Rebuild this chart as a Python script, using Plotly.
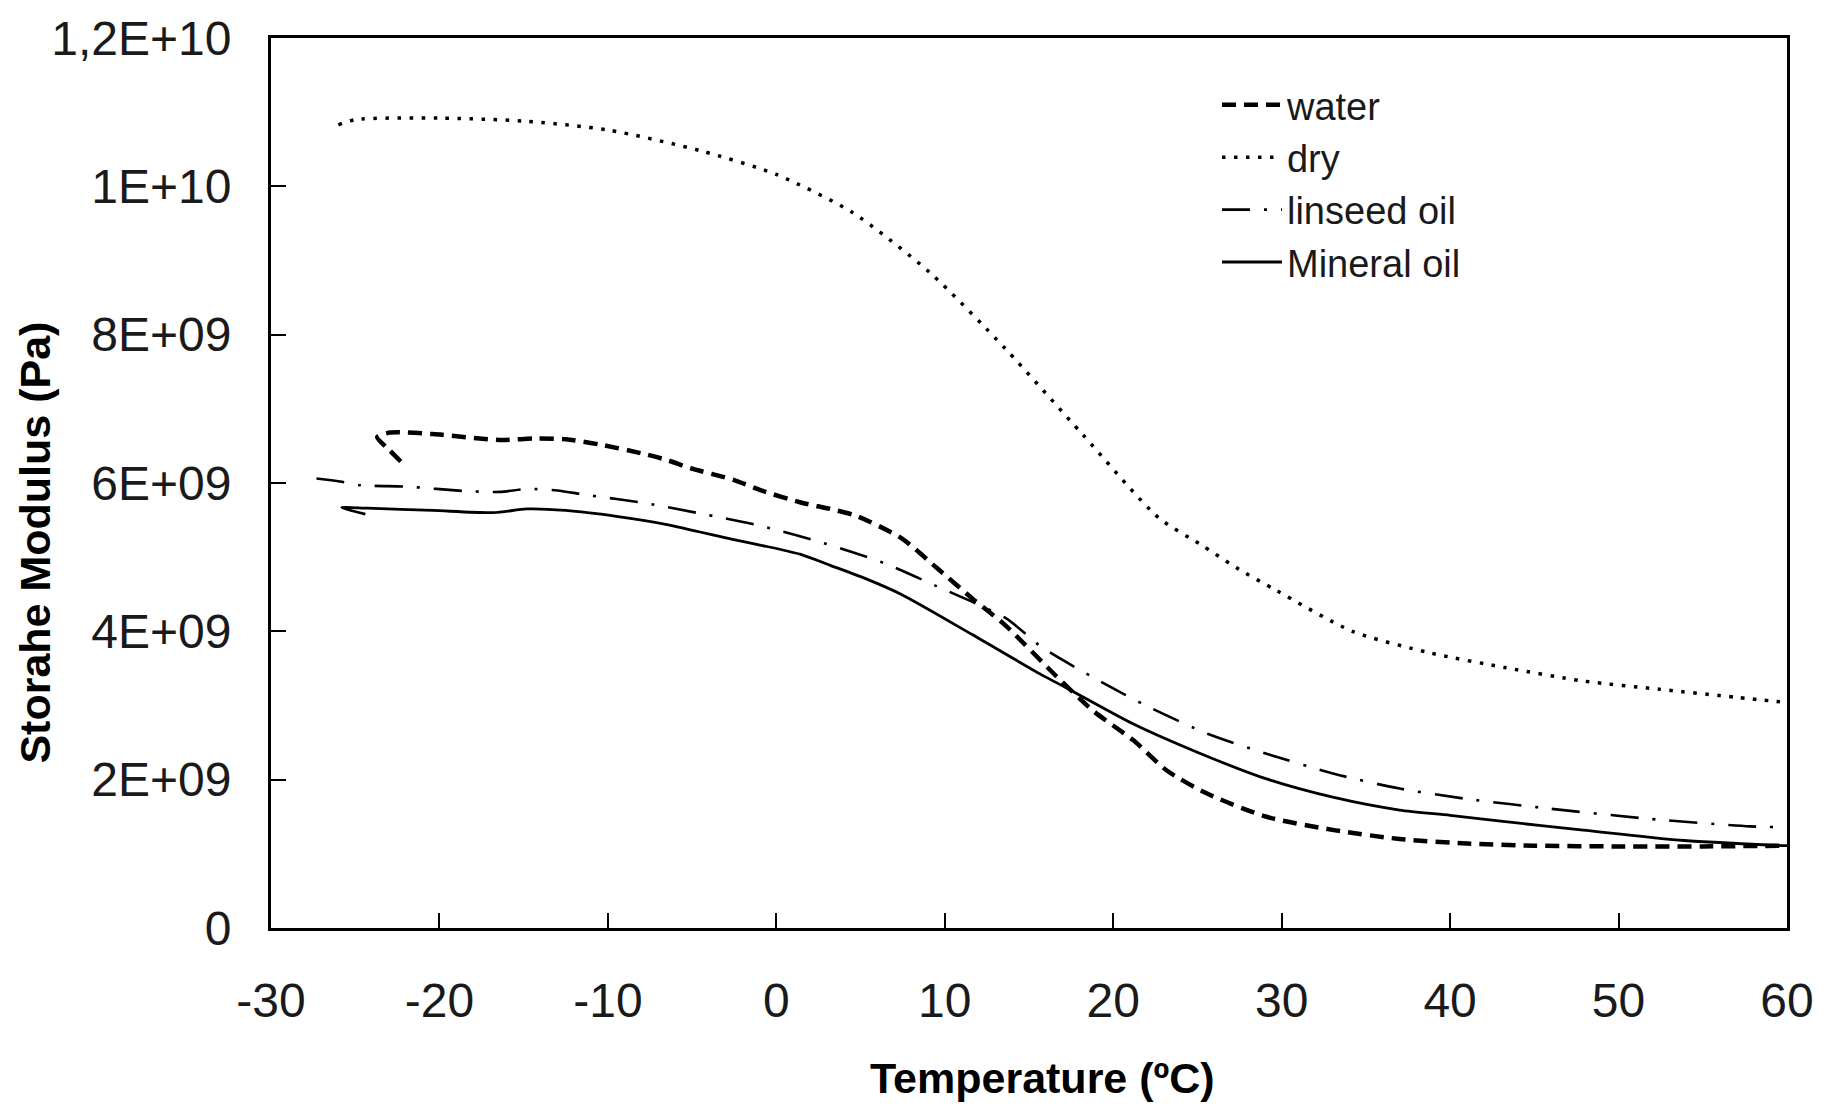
import plotly.graph_objects as go

# Temperature (°C) and storage modulus (units of 1E9 Pa)
T_water = [-22.3, -23.0, -23.7, -22.9, -20.4, -16.4, -14.4, -12.5, -10.5, -8.0, -6.5, -5.1, -2.5, -0.9, 1.4, 3.2, 4.7, 7.4, 9.5, 11.6, 13.6, 16.6, 18.8, 21.2, 23.2, 25.6, 29.1, 33.1, 37.0, 41.0, 45.0, 50.0, 55.0, 60.0]
V_water = [6.29, 6.45, 6.62, 6.68, 6.66, 6.58, 6.60, 6.59, 6.52, 6.40, 6.31, 6.20, 6.04, 5.90, 5.74, 5.65, 5.56, 5.26, 4.86, 4.45, 4.08, 3.40, 2.93, 2.53, 2.12, 1.81, 1.50, 1.32, 1.20, 1.14, 1.11, 1.10, 1.10, 1.11]

T_dry = [-26.0, -25.0, -20.0, -15.0, -10.0, -4.5, 0.0, 4.5, 9.1, 13.6, 18.2, 22.7, 25.2, 27.3, 29.7, 34.2, 38.8, 43.3, 47.9, 52.4, 57.0, 60.0]
V_dry = [10.83, 10.90, 10.92, 10.88, 10.76, 10.48, 10.16, 9.65, 8.84, 7.81, 6.65, 5.53, 5.17, 4.86, 4.55, 4.00, 3.71, 3.51, 3.33, 3.22, 3.11, 3.04]

T_lin = [-27.3, -25.9, -24.7, -21.9, -18.4, -16.4, -14.8, -13.0, -11.3, -7.8, -4.1, -0.9, 2.8, 6.4, 9.5, 13.6, 15.8, 19.2, 22.2, 25.6, 29.1, 33.1, 37.0, 41.0, 45.9, 51.9, 57.8, 60.0]
V_lin = [6.06, 6.02, 5.97, 5.95, 5.89, 5.88, 5.92, 5.90, 5.84, 5.73, 5.57, 5.42, 5.19, 4.92, 4.61, 4.18, 3.78, 3.33, 2.97, 2.62, 2.35, 2.08, 1.88, 1.74, 1.61, 1.47, 1.37, 1.36]

T_min = [-24.4, -25.8, -24.3, -20.4, -16.8, -14.8, -12.5, -9.5, -6.5, -2.6, -0.9, 1.4, 3.2, 5.3, 7.4, 11.6, 15.7, 17.2, 21.2, 25.2, 29.1, 33.1, 37.0, 40.0, 43.0, 47.9, 53.9, 60.0]
V_min = [5.58, 5.67, 5.66, 5.63, 5.60, 5.65, 5.63, 5.55, 5.44, 5.24, 5.16, 5.04, 4.89, 4.71, 4.50, 3.96, 3.42, 3.24, 2.75, 2.35, 2.01, 1.76, 1.59, 1.52, 1.44, 1.32, 1.18, 1.11]

SCALE = 1e9
y_tickvals = [0, 2e9, 4e9, 6e9, 8e9, 1e10, 1.2e10]
y_ticktext = ["0", "2E+09", "4E+09", "6E+09", "8E+09", "1E+10", "1,2E+10"]
x_tickvals = [-30, -20, -10, 0, 10, 20, 30, 40, 50, 60]
x_ticktext = ["-30", "-20", "-10", "0", "10", "20", "30", "40", "50", "60"]

FONT = "Liberation Sans, Arial, sans-serif"

fig = go.Figure()
fig.add_trace(go.Scatter(x=T_water, y=[v * SCALE for v in V_water], name="water", mode="lines",
                         line=dict(color="black", width=4.5, dash="14px,8px", shape="spline", smoothing=0.7)))
fig.add_trace(go.Scatter(x=T_dry, y=[v * SCALE for v in V_dry], name="dry", mode="lines",
                         line=dict(color="black", width=3.5, dash="3.5px,8.5px", shape="spline", smoothing=0.7)))
fig.add_trace(go.Scatter(x=T_lin, y=[v * SCALE for v in V_lin], name="linseed oil", mode="lines",
                         line=dict(color="black", width=2.6, dash="28px,14px,3px,14px", shape="spline", smoothing=0.7)))
fig.add_trace(go.Scatter(x=T_min, y=[v * SCALE for v in V_min], name="Mineral oil", mode="lines",
                         line=dict(color="black", width=2.8, shape="spline", smoothing=0.7)))

fig.update_layout(
    width=1837, height=1107,
    margin=dict(l=271, r=50, t=35, b=179),
    paper_bgcolor="white", plot_bgcolor="white",
    font=dict(family=FONT, color="#1a1a1a"),
    showlegend=True,
    legend=dict(x=0.624, y=0.96, xanchor="left", yanchor="top",
                font=dict(size=38, family=FONT, color="#1a1a1a"),
                bgcolor="rgba(255,255,255,0)", tracegroupgap=0, itemwidth=60),
    xaxis=dict(range=[-30, 60], tickvals=x_tickvals, ticktext=x_ticktext, ticks="inside", ticklen=15,
               tickwidth=1.5, tickcolor="black", showline=True, linecolor="black", linewidth=3,
               mirror=True, showgrid=False, zeroline=False, tickfont=dict(size=48, family=FONT),
               ticklabelstandoff=28),
    yaxis=dict(range=[0, 1.2e10], tickvals=y_tickvals, ticktext=y_ticktext, ticks="inside",
               ticklen=15, tickwidth=1.5, tickcolor="black", showline=True, linecolor="black",
               linewidth=3, mirror=True, showgrid=False, zeroline=False,
               tickfont=dict(size=48, family=FONT), ticklabelstandoff=27),
    annotations=[
        dict(text="<b>Temperature (ºC)</b>", xref="paper", yref="paper", x=0.509, y=-0.168,
             xanchor="center", yanchor="middle", showarrow=False,
             font=dict(size=43, family=FONT, color="black")),
        dict(text="<b>Storahe Modulus (Pa)</b>", xref="paper", yref="paper", x=-0.1557, y=0.433,
             xanchor="center", yanchor="middle", showarrow=False, textangle=-90,
             font=dict(size=43, family=FONT, color="black")),
    ],
)

fig.write_html("out.html")
